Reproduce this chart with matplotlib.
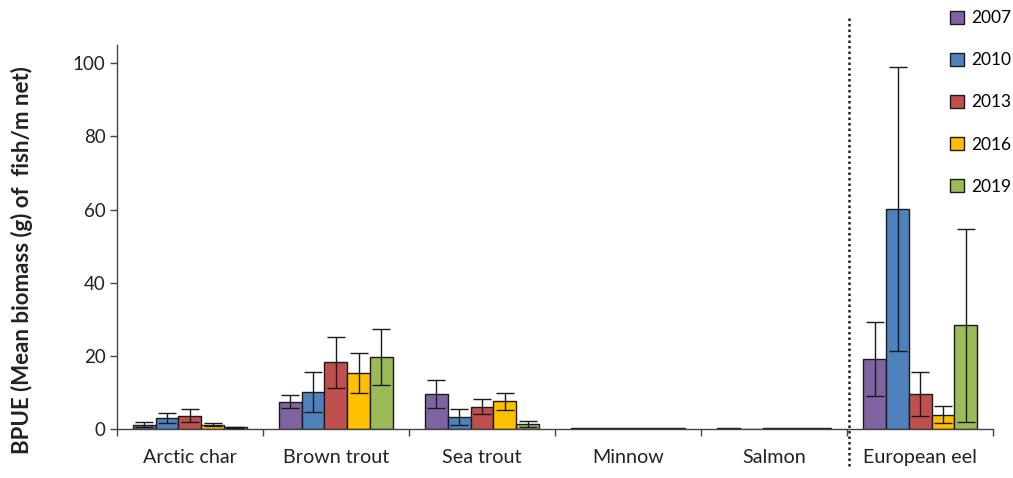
import matplotlib
matplotlib.use("Agg")
import matplotlib.pyplot as plt
import numpy as np
from matplotlib.patches import Patch
from matplotlib.lines import Line2D

categories = ["Arctic char", "Brown trout", "Sea trout", "Minnow", "Salmon", "European eel"]
years = ["2007", "2010", "2013", "2016", "2019"]
colors = ["#8064A2", "#4F81BD", "#C0504D", "#FFC000", "#9BBB59"]

v2007 = [1.3, 7.5, 9.7, 0.25, 0.25, 19.1]
v2010 = [3.0, 10.1, 3.4, 0.25, 0.0, 60.2]
v2013 = [3.7, 18.3, 6.2, 0.25, 0.25, 9.6]
v2016 = [1.2, 15.3, 7.6, 0.25, 0.25, 4.0]
v2019 = [0.5, 19.8, 1.5, 0.25, 0.25, 28.4]

e2007 = [0.7, 1.8, 3.8, 0.0, 0.0, 10.1]
e2010 = [1.4, 5.5, 2.1, 0.0, 0.0, 38.8]
e2013 = [1.8, 7.0, 2.0, 0.0, 0.0, 6.0]
e2016 = [0.4, 5.5, 2.4, 0.0, 0.0, 2.4]
e2019 = [0.15, 7.7, 0.8, 0.0, 0.0, 26.3]

values = [v2007, v2010, v2013, v2016, v2019]
errors = [e2007, e2010, e2013, e2016, e2019]

plt.rcParams['font.family'] = ['Lato', 'DejaVu Sans']

fig = plt.figure(figsize=(10.13, 4.78), dpi=100)
ax = fig.add_axes([0.1152, 0.1019, 0.9806 - 0.1152, 0.9059 - 0.1019])

n = len(categories)
x = np.arange(n)
bw = 0.156
for i, (vals, errs, col) in enumerate(zip(values, errors, colors)):
    pos = x + (i - 2) * bw
    ax.bar(pos, vals, width=bw, color=col, edgecolor="#1a1a1a", linewidth=1.0, zorder=2)
    mask = np.array(errs) > 0
    ax.errorbar(pos[mask], np.array(vals)[mask], yerr=np.array(errs)[mask], fmt='none',
                ecolor="#1a1a1a", elinewidth=1.0, capsize=6.3, capthick=1.0, zorder=3)

ax.set_xlim(-0.5, n - 0.5)
ax.set_ylim(0, 105)
ax.set_yticks([0, 20, 40, 60, 80, 100])
ax.set_xticks(x)
ax.set_xticklabels(categories, fontsize=14.2, color="#222222")
ax.set_xticks(np.arange(-0.5, n, 1.0), minor=True)
ax.tick_params(axis='x', which='major', length=0, pad=14)
ax.tick_params(axis='x', which='minor', length=5, width=1.0, color="#444444", direction='out')
ax.tick_params(axis='y', length=5, width=1.0, color="#444444", labelsize=13.5, labelcolor="#222222", pad=3)
for s in ["top", "right"]:
    ax.spines[s].set_visible(False)
for s in ["left", "bottom"]:
    ax.spines[s].set_color("#444444")
    ax.spines[s].set_linewidth(1.0)

ax.set_ylabel("BPUE (Mean biomass (g) of  fish/m net)", fontsize=16, fontweight='bold',
              color="#222222")
ax.yaxis.set_label_coords(-0.0955, 0.44)

# vertical dotted separator before European eel
xsep = 4.51
xfig = fig.transFigure.inverted().transform(ax.transData.transform((xsep, 0)))[0]
fig.add_artist(Line2D([xfig, xfig], [1 - 18 / 478, 1 - 466 / 478], transform=fig.transFigure,
                      color="#222222", linestyle=(0, (1, 1.2)), linewidth=1.8))

handles = [Patch(facecolor=c, edgecolor="#1a1a1a", linewidth=1.0) for c in colors]
fig.legend(handles, years, loc="upper left", bbox_to_anchor=(0.928, 1.0), frameon=False,
           fontsize=12.5, labelspacing=1.5, handlelength=0.8, handleheight=0.8,
           handletextpad=0.4, borderaxespad=0.2)

fig.savefig("out.png", dpi=100)
